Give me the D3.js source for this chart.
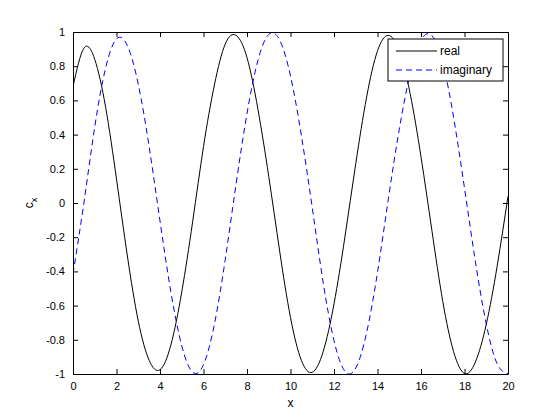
<!DOCTYPE html>
<html lang="en">
<head>
    <meta charset="UTF-8">
    <title>real / imaginary</title>
    <script src="https://d3js.org/d3.v7.min.js"></script>
    <style>
        body { margin: 0; background: #fff; }
        svg { display: block; font-family: "Liberation Sans", Arial, sans-serif; }
    </style>
</head>
<body>
    <div id="chart"></div>

    <script>
        const xs = d3.range(0, 20.01, 0.5);
        const realVals = [0.68, 0.905, 0.84, 0.56, 0.14, -0.31, -0.69, -0.92, -0.975, -0.83,
            -0.52, -0.11, 0.33, 0.69, 0.93, 0.98, 0.85, 0.55, 0.155, -0.28,
            -0.67, -0.92, -0.99, -0.87, -0.59, -0.2, 0.23, 0.62, 0.89, 0.98,
            0.89, 0.64, 0.27, -0.16, -0.575, -0.87, -0.997, -0.93, -0.71, -0.37,
            0.04];
        const imagVals = [-0.415, 0.0, 0.445, 0.79, 0.96, 0.92, 0.695, 0.33, -0.105, -0.52,
            -0.835, -0.99, -0.945, -0.71, -0.33, 0.113, 0.523, 0.833, 0.986, 0.953,
            0.743, 0.395, -0.027, -0.463, -0.805, -0.984, -0.965, -0.758, -0.406, 0.025,
            0.43, 0.756, 0.952, 0.979, 0.82, 0.5, 0.087, -0.342, -0.707, -0.94,
            -0.998];
        const xTicks = [0, 2, 4, 6, 8, 10, 12, 14, 16, 18, 20];
        const yTicks = [-1, -0.8, -0.6, -0.4, -0.2, 0, 0.2, 0.4, 0.6, 0.8, 1];
        const seriesNames = ['real', 'imaginary'];

        const W = 560, H = 420;
        const L = 73, R = 508, T = 32, B = 374;
        const tickLen = 5;

        const svg = d3.select('#chart').append('svg')
            .attr('width', W)
            .attr('height', H);

        const x = d3.scaleLinear().domain([0, 20]).range([L, R]);
        const y = d3.scaleLinear().domain([-1, 1]).range([B, T]);

        // clip the curves to the axes box
        svg.append('clipPath').attr('id', 'box')
            .append('rect')
            .attr('x', L).attr('y', T)
            .attr('width', R - L).attr('height', B - T);

        const line = d3.line()
            .x(d => x(d[0]))
            .y(d => y(d[1]))
            .curve(d3.curveNatural);

        const series = [
            { name: seriesNames[0], pts: xs.map((v, i) => [v, realVals[i]]), color: '#000', dash: null },
            { name: seriesNames[1], pts: xs.map((v, i) => [v, imagVals[i]]), color: '#0000ff', dash: '6,4' }
        ];

        svg.append('g').attr('clip-path', 'url(#box)')
            .selectAll('path')
            .data(series)
            .join('path')
            .attr('d', d => line(d.pts))
            .attr('fill', 'none')
            .attr('stroke', d => d.color)
            .attr('stroke-width', 1)
            .attr('stroke-dasharray', d => d.dash);

        // axes: ticks point inward, box on all sides
        const fmt = d => String(d);
        svg.append('g')
            .attr('transform', `translate(0,${B})`)
            .call(d3.axisBottom(x).tickValues(xTicks).tickFormat(fmt).tickSizeInner(-tickLen).tickSizeOuter(0).tickPadding(8));
        svg.append('g')
            .attr('transform', `translate(0,${T})`)
            .call(d3.axisTop(x).tickValues(xTicks).tickFormat('').tickSizeInner(-tickLen).tickSizeOuter(0));
        svg.append('g')
            .attr('transform', `translate(${L},0)`)
            .call(d3.axisLeft(y).tickValues(yTicks).tickFormat(fmt).tickSizeInner(-tickLen).tickSizeOuter(0).tickPadding(8));
        svg.append('g')
            .attr('transform', `translate(${R},0)`)
            .call(d3.axisRight(y).tickValues(yTicks).tickFormat('').tickSizeInner(-tickLen).tickSizeOuter(0));

        svg.selectAll('.domain').attr('stroke', '#000');
        svg.selectAll('.tick line').attr('stroke', '#000');
        svg.selectAll('.tick text')
            .attr('fill', '#000')
            .style('font-size', '11px')
            .style('font-family', '"Liberation Sans", Arial, sans-serif');

        // axis labels
        svg.append('text')
            .attr('x', (L + R) / 2)
            .attr('y', 407)
            .attr('text-anchor', 'middle')
            .style('font-size', '12px')
            .text('x');

        const yl = svg.append('text')
            .attr('transform', 'translate(33,203) rotate(-90)')
            .attr('text-anchor', 'middle')
            .style('font-size', '12px');
        yl.append('tspan').text('c');
        yl.append('tspan').attr('dy', 4).style('font-size', '9px').text('x');

        // legend
        const lg = svg.append('g').attr('transform', 'translate(388,39)');
        lg.append('rect')
            .attr('width', 115).attr('height', 42)
            .attr('fill', '#fff')
            .attr('stroke', '#000');
        const rows = lg.selectAll('g.row')
            .data(series)
            .join('g')
            .attr('class', 'row')
            .attr('transform', (d, i) => `translate(0,${12 + i * 19})`);
        rows.append('line')
            .attr('x1', 8).attr('x2', 49)
            .attr('stroke', d => d.color)
            .attr('stroke-dasharray', d => d.dash);
        rows.append('text')
            .attr('x', 52).attr('dy', '0.35em')
            .style('font-size', '12px')
            .text(d => d.name);
    </script>
</body>
</html>
